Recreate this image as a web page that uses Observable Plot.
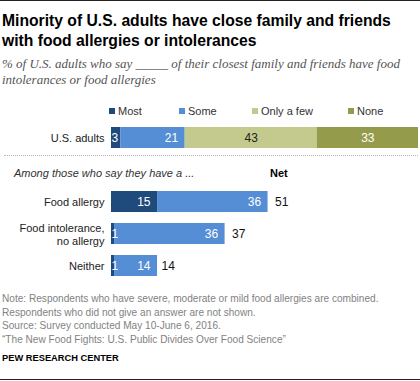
<!DOCTYPE html>
<html>
<head>
<meta charset="utf-8">
<script src="https://cdn.jsdelivr.net/npm/d3@7"></script>
<script src="https://cdn.jsdelivr.net/npm/@observablehq/plot@0.6"></script>
<style>
  html, body { margin: 0; padding: 0; background: #fff; }
  #wrap { position: relative; width: 420px; height: 381px; overflow: hidden; font-family: "Liberation Sans", Arial, sans-serif; }
  .abs { position: absolute; white-space: nowrap; }
  #title { left: 2px; top: 11px; font-size: 15.7px; font-weight: bold; line-height: 20px; color: #000; }
  #subtitle { left: 2px; top: 56px; font-family: "Liberation Serif", Georgia, serif; font-style: italic; font-size: 13px; line-height: 16px; color: #555; }
  .legitem { position: absolute; top: 104px; font-size: 11px; color: #333; line-height: 14px; }
  .legitem i { position: absolute; left: 0; top: 4px; width: 6px; height: 6px; }
  #chart { position: absolute; left: 0; top: 120px; }
  #dots { position: absolute; left: 4px; top: 155px; width: 414px; height: 0; border-top: 1px dotted #b5b5b5; }
  #among { left: 14px; top: 166px; font-size: 11px; font-style: italic; color: #333; line-height: 14px; }
  #net { left: 270px; top: 166px; font-size: 11px; font-weight: bold; color: #000; line-height: 14px; }
  #notes { left: 2px; top: 292px; font-size: 10.1px; line-height: 13.5px; color: #828282; }
  #pew { left: 2px; top: 352px; font-size: 9.3px; font-weight: bold; color: #000; line-height: 12px; }
  #toprule { position: absolute; left: 0; top: 0; width: 420px; height: 1px; background: #222; }
  #botrule { position: absolute; left: 0; top: 379px; width: 420px; height: 1px; background: #222; }
</style>
</head>
<body>
<div id="wrap">
  <div id="toprule"></div>
  <div id="title" class="abs">Minority of U.S. adults have close family and friends<br>with food allergies or intolerances</div>
  <div id="subtitle" class="abs">% of U.S. adults who say _____ of their closest family and friends have food<br>intolerances or food allergies</div>
  <div id="legend"></div>
  <div id="dots"></div>
  <div id="among" class="abs">Among those who say they have a ...</div>
  <div id="net" class="abs">Net</div>
  <div id="chart"></div>
  <div id="notes" class="abs">Note: Respondents who have severe, moderate or mild food allergies are combined.<br>Respondents who did not give an answer are not shown.<br>Source: Survey conducted May 10-June 6, 2016.<br>“The New Food Fights: U.S. Public Divides Over Food Science”</div>
  <div id="pew" class="abs">PEW RESEARCH CENTER</div>
  <div id="botrule"></div>
</div>
<script>
// ---- data ----
const categories = ["Most", "Some", "Only a few", "None"];
const colors = ["#1f4a7c", "#558ed5", "#c4ca8e", "#949b4b"];
const rows = ["U.S. adults", "Food allergy", "Food intolerance, no allergy", "Neither"];
const usAdults = [3, 21, 43, 33];
const foodAllergy = [15, 36];
const foodIntolerance = [1, 36];
const neither = [1, 14];
const netRows = ["Food allergy", "Food intolerance, no allergy", "Neither"];
const netValues = [51, 37, 14];

// ---- layout (not data) ----
const legendLeft = [109, 179, 252, 348];
const gapKey = " ";

// build table
const series = [usAdults, foodAllergy, foodIntolerance, neither];
const table = [];
rows.forEach((r, i) => {
  series[i].forEach((v, j) => table.push({row: r, category: categories[j], value: v}));
});
const netTable = netRows.map((r, i) => ({row: r, net: netValues[i]}));

// legend (HTML)
const leg = document.getElementById("legend");
categories.forEach((c, i) => {
  const d = document.createElement("div");
  d.className = "legitem";
  d.style.left = legendLeft[i] + "px";
  d.style.paddingLeft = "9px";
  d.innerHTML = `<i style="background:${colors[i]}"></i>${c}`;
  leg.appendChild(d);
});

const labelColor = {"Most": "#fff", "Some": "#fff", "Only a few": "#222", "None": "#fff"};
const stackOpts = {order: categories};

const chart = Plot.plot({
  width: 420,
  height: 165,
  marginLeft: 111,
  marginRight: 2,
  marginTop: 0,
  marginBottom: 0,
  style: {fontFamily: "'Liberation Sans', Arial, sans-serif", fontSize: "12px", background: "transparent", overflow: "visible"},
  x: {domain: [0, 100], axis: null},
  y: {domain: [rows[0], gapKey, ...rows.slice(1)], range: [1.5, 161.5], paddingInner: 0.34, paddingOuter: 0.17, axis: null},
  color: {domain: categories, range: colors},
  marks: [
    Plot.barX(table, Plot.stackX(stackOpts, {x: "value", y: "row", z: "category", fill: "category"})),
    // centered labels (Only a few, None)
    Plot.text(table, Plot.stackX(stackOpts, {
      x: "value", y: "row", z: "category",
      text: d => (d.category === "Only a few" || d.category === "None") ? String(d.value) : null,
      fill: d => labelColor[d.category]
    })),
    // end-aligned labels (Most, Some) when wide enough
    Plot.text(table, Plot.stackX2(stackOpts, {
      x: "value", y: "row", z: "category",
      text: d => (d.category === "Most" || d.category === "Some") && d.value >= 10 ? String(d.value) : null,
      fill: "#fff", textAnchor: "end", dx: -7
    })),
    // small labels at start
    Plot.text(table, Plot.stackX1(stackOpts, {
      x: "value", y: "row", z: "category",
      text: d => d.value < 10 ? String(d.value) : null,
      fill: "#fff", textAnchor: "start", dx: 0
    })),
    // net labels
    Plot.text(netTable, {x: "net", y: "row", text: d => String(d.net), textAnchor: "start", dx: 7, fill: "#111"}),
    // row labels
    Plot.axisY({
      ticks: rows,
      tickSize: 0,
      tickPadding: 7,
      fontSize: 11,
      lineHeight: 1.25,
      fill: "#222",
      tickFormat: d => d === "Food intolerance, no allergy" ? "Food intolerance,\nno allergy" : d,
      label: null
    })
  ]
});
document.getElementById("chart").appendChild(chart);
</script>
</body>
</html>
